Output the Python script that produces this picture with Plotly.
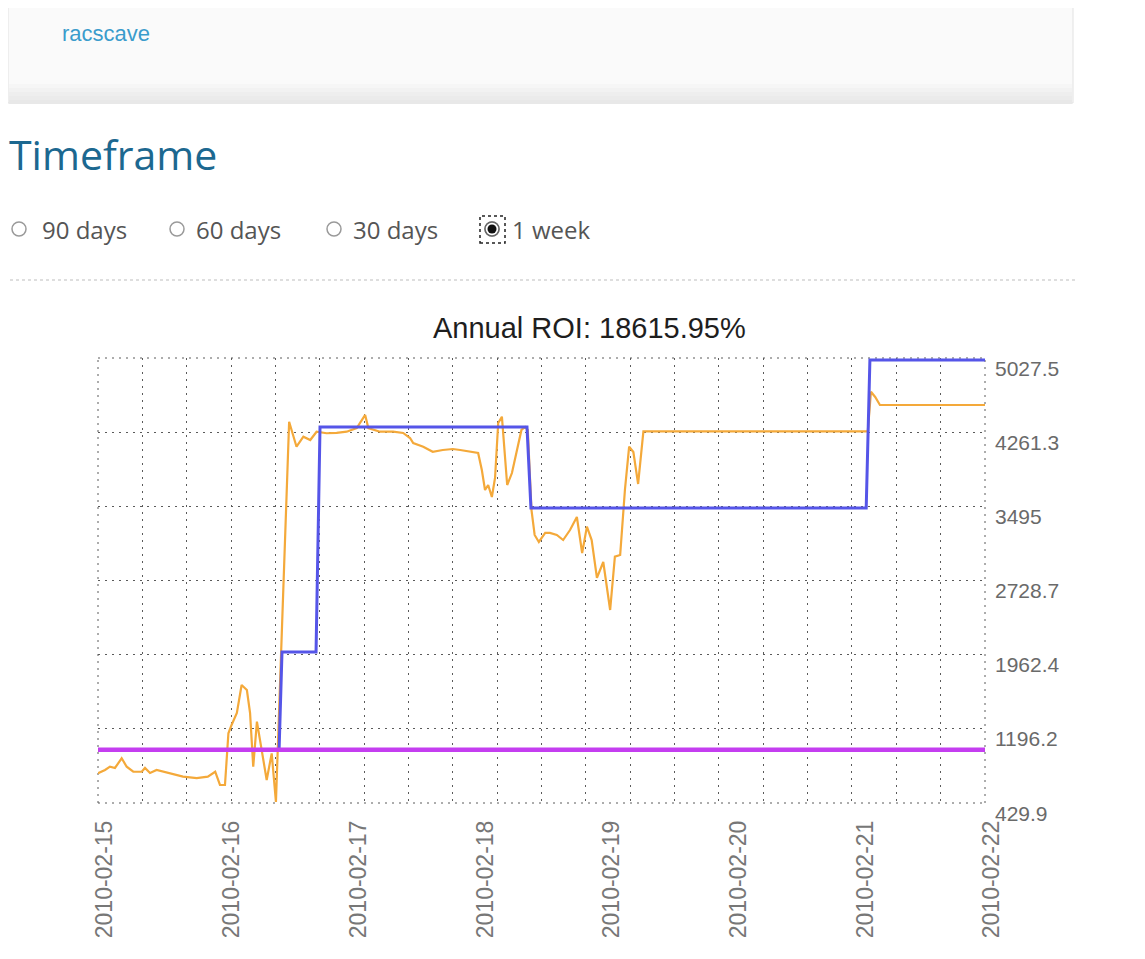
import plotly.graph_objects as go

# ---------------- data ----------------
orange_time = [
    "2010-02-15 00:00", "2010-02-15 01:20", "2010-02-15 02:16", "2010-02-15 03:13", "2010-02-15 04:29",
    "2010-02-15 05:26", "2010-02-15 06:41", "2010-02-15 08:17", "2010-02-15 08:54", "2010-02-15 09:51",
    "2010-02-15 11:06", "2010-02-15 13:36", "2010-02-15 16:06", "2010-02-15 18:42", "2010-02-15 20:48",
    "2010-02-15 22:12", "2010-02-15 23:06", "2010-02-16 00:03", "2010-02-16 00:42", "2010-02-16 01:18",
    "2010-02-16 02:18", "2010-02-16 03:12", "2010-02-16 04:12", "2010-02-16 04:48", "2010-02-16 05:24",
    "2010-02-16 06:06", "2010-02-16 07:00", "2010-02-16 07:57", "2010-02-16 08:54", "2010-02-16 09:42",
    "2010-02-16 12:12", "2010-02-16 13:36", "2010-02-16 14:54", "2010-02-16 16:12", "2010-02-16 17:24",
    "2010-02-16 19:18", "2010-02-16 21:12", "2010-02-16 23:06", "2010-02-17 01:00", "2010-02-17 02:36",
    "2010-02-17 03:12", "2010-02-17 05:24", "2010-02-17 07:54", "2010-02-17 09:48", "2010-02-17 11:06",
    "2010-02-17 11:42", "2010-02-17 13:36", "2010-02-17 15:24", "2010-02-17 17:18", "2010-02-17 19:12",
    "2010-02-17 20:36", "2010-02-17 22:30", "2010-02-18 00:00", "2010-02-18 00:42", "2010-02-18 01:18",
    "2010-02-18 01:54", "2010-02-18 02:36", "2010-02-18 03:12", "2010-02-18 03:48", "2010-02-18 04:30",
    "2010-02-18 04:54", "2010-02-18 05:30", "2010-02-18 06:24", "2010-02-18 07:18", "2010-02-18 08:12",
    "2010-02-18 08:54", "2010-02-18 09:24", "2010-02-18 10:06", "2010-02-18 10:42", "2010-02-18 11:30",
    "2010-02-18 12:42", "2010-02-18 13:36", "2010-02-18 14:54", "2010-02-18 16:06", "2010-02-18 17:24",
    "2010-02-18 18:42", "2010-02-18 19:42", "2010-02-18 20:36", "2010-02-18 21:30", "2010-02-18 22:30",
    "2010-02-18 23:42", "2010-02-19 01:00", "2010-02-19 01:54", "2010-02-19 02:54", "2010-02-19 03:48",
    "2010-02-19 04:36", "2010-02-19 05:24", "2010-02-19 06:18", "2010-02-19 07:18", "2010-02-21 01:48",
    "2010-02-21 02:24", "2010-02-21 03:12", "2010-02-21 04:06", "2010-02-22 00:00",
]
orange_value = [
    737, 771, 805, 792, 892,
    805, 753, 753, 792, 740,
    771, 740, 702, 688, 702,
    753, 616, 616, 1150, 1236,
    1360, 1649, 1597, 1360, 805,
    1270, 978, 668, 943, 440,
    4369, 4111, 4214, 4180, 4266,
    4250, 4253, 4266, 4304, 4439,
    4304, 4266, 4266, 4253, 4201,
    4149, 4111, 4059, 4077, 4087,
    4077, 4059, 4046, 3870, 3664,
    3715, 3591, 3788, 4356, 4421,
    4129, 3715, 3839, 4077, 4284,
    4315, 4284, 3457, 3199, 3127,
    3220, 3220, 3199, 3147, 3250,
    3385, 3013, 3285, 3147, 2755,
    2920, 2424, 2975, 2992, 3664,
    4111, 4056, 3726, 4270, 4270,
    4679, 4625, 4542, 4542,
]

blue_time = [
    "2010-02-15 00:00", "2010-02-16 10:18", "2010-02-16 10:51", "2010-02-16 17:18", "2010-02-16 18:03",
    "2010-02-18 09:15", "2010-02-18 10:00", "2010-02-21 01:30", "2010-02-21 02:12", "2010-02-22 00:00",
]
blue_value = [980, 980, 1990, 1990, 4315, 4315, 3478, 3478, 5007, 5007]

magenta_time = ["2010-02-15 00:00", "2010-02-22 00:00"]
magenta_value = [980, 980]

x_tick_dates = ["2010-02-15", "2010-02-16", "2010-02-17", "2010-02-18",
                "2010-02-19", "2010-02-20", "2010-02-21", "2010-02-22"]
y_tick_values = [429.9, 1196.2, 1962.4, 2728.7, 3495, 4261.3, 5027.5]
y_tick_labels = ["429.9", "1196.2", "1962.4", "2728.7", "3495", "4261.3", "5027.5"]

title_text = "Annual ROI: 18615.95%"
user_link = "racscave"
heading = "Timeframe"
radio_labels = ["90 days", "60 days", "30 days", "1 week"]
radio_selected = "1 week"

# ---------------- geometry (page px -> paper) ----------------
W, H = 1129, 943
OFF = 8
ML, MT, PW, PH = 90, 350, 887, 445

GRID_COLOR = "#5a5a5a"
GRID_DASH = "2px,5px"


def px(x):
    return (x - OFF - ML) / PW


def py(y):
    return (MT + PH - (y - OFF)) / PH


fig = go.Figure()
fig.add_trace(go.Scatter(x=orange_time, y=orange_value, mode="lines",
                         line=dict(color="#f4a93a", width=2.2), hoverinfo="skip"))
fig.add_trace(go.Scatter(x=blue_time, y=blue_value, mode="lines",
                         line=dict(color="#5555e8", width=3), hoverinfo="skip"))
fig.add_trace(go.Scatter(x=magenta_time, y=magenta_value, mode="lines",
                         line=dict(color="#c43ef0", width=4.5), hoverinfo="skip"))

shapes = []
annotations = []

# dotted frame of the plot area (edge grid lines)
for (x0, x1, y0, y1) in [(0, 1, 0, 0), (0, 1, 1, 1), (0, 0, 0, 1), (1, 1, 0, 1)]:
    shapes.append(dict(type="line", xref="paper", yref="paper", x0=x0, x1=x1, y0=y0, y1=y1,
                       line=dict(color=GRID_COLOR, width=1, dash=GRID_DASH), layer="below"))

# top box
shapes.append(dict(type="rect", xref="paper", yref="paper", x0=px(8), x1=px(1073),
                   y0=py(-20), y1=py(103), fillcolor="#fafafa",
                   line=dict(color="#e2e2e2", width=1), layer="below"))
grad = ["#f6f6f6", "#f2f2f2", "#eeeeee", "#ebebeb", "#e8e8e8"]
for i, c in enumerate(grad):
    shapes.append(dict(type="rect", xref="paper", yref="paper", x0=px(9), x1=px(1072),
                       y0=py(84 + i * 4), y1=py(88 + i * 4), fillcolor=c,
                       line=dict(width=0), layer="below"))
annotations.append(dict(text=user_link, xref="paper", yref="paper", x=px(60), y=py(33),
                        xanchor="left", yanchor="middle", showarrow=False,
                        font=dict(family="Liberation Sans, Arial", size=22, color="#3a9ccc")))
annotations.append(dict(text=heading, xref="paper", yref="paper", x=px(7), y=py(154),
                        xanchor="left", yanchor="middle", showarrow=False,
                        font=dict(family="Open Sans", size=41, color="#1c6890")))

# radio buttons
radio_circle_x = [19, 177, 334, 492]
radio_text_x = [40, 194, 351, 510]
for lab, cx, tx in zip(radio_labels, radio_circle_x, radio_text_x):
    r = 7
    shapes.append(dict(type="circle", xref="paper", yref="paper",
                       x0=px(cx - r), x1=px(cx + r), y0=py(229 + r), y1=py(229 - r),
                       fillcolor="white", line=dict(color="#9a9a9a", width=1.5)))
    if lab == radio_selected:
        shapes.append(dict(type="rect", xref="paper", yref="paper",
                           x0=px(480), x1=px(505), y0=py(243), y1=py(216),
                           fillcolor="rgba(0,0,0,0)", line=dict(color="#222", width=1.5, dash="dot")))
        shapes.append(dict(type="circle", xref="paper", yref="paper",
                           x0=px(cx - r), x1=px(cx + r), y0=py(229 + r), y1=py(229 - r),
                           fillcolor="white", line=dict(color="#666", width=1.5)))
        shapes.append(dict(type="circle", xref="paper", yref="paper",
                           x0=px(cx - 4.5), x1=px(cx + 4.5), y0=py(229 + 4.5), y1=py(229 - 4.5),
                           fillcolor="#111", line=dict(width=0)))
    annotations.append(dict(text=lab, xref="paper", yref="paper", x=px(tx), y=py(229),
                            xanchor="left", yanchor="middle", showarrow=False,
                            font=dict(family="Open Sans", size=24, color="#555555")))

# dashed separator
shapes.append(dict(type="line", xref="paper", yref="paper", x0=px(10), x1=px(1076),
                   y0=py(280), y1=py(280), line=dict(color="#bdbdbd", width=1, dash="3px,3px")))

# chart title
annotations.append(dict(text=title_text, xref="paper", yref="paper", x=px(589), y=py(328),
                        xanchor="center", yanchor="middle", showarrow=False,
                        font=dict(family="Liberation Sans, Arial", size=29, color="#1e1e1e")))

# y tick labels on the right
for v, t in zip(y_tick_values, y_tick_labels):
    annotations.append(dict(text=t, xref="paper", yref="y", x=1, y=v, xshift=8, yshift=-10,
                            xanchor="left", yanchor="middle", showarrow=False,
                            font=dict(family="Liberation Sans, Arial", size=21, color="#6a6a6a")))

fig.update_layout(
    width=W, height=H, autosize=False,
    margin=dict(l=ML, r=W - ML - PW, t=MT, b=H - MT - PH, pad=0),
    paper_bgcolor="white", plot_bgcolor="white",
    showlegend=False,
    shapes=shapes, annotations=annotations,
    xaxis=dict(
        type="date", range=["2010-02-15 00:00", "2010-02-22 00:00"],
        tickmode="array", tickvals=x_tick_dates, ticktext=x_tick_dates,
        tickangle=-90, ticklabelstandoff=12, ticklabelshift=7,
        tickfont=dict(family="Liberation Sans, Arial", size=23, color="#777777"),
        showgrid=False, zeroline=False, showline=False, ticks="",
        minor=dict(tick0="2010-02-15", dtick=30240000, showgrid=True,
                   gridcolor=GRID_COLOR, gridwidth=1, griddash=GRID_DASH, ticks=""),
        fixedrange=True,
    ),
    yaxis=dict(
        range=[429.9, 5027.5], tickmode="array", tickvals=y_tick_values,
        showticklabels=False, showgrid=True, gridcolor=GRID_COLOR, gridwidth=1,
        griddash=GRID_DASH, zeroline=False, showline=False, ticks="", fixedrange=True,
    ),
)

fig.write_html("out.html")
